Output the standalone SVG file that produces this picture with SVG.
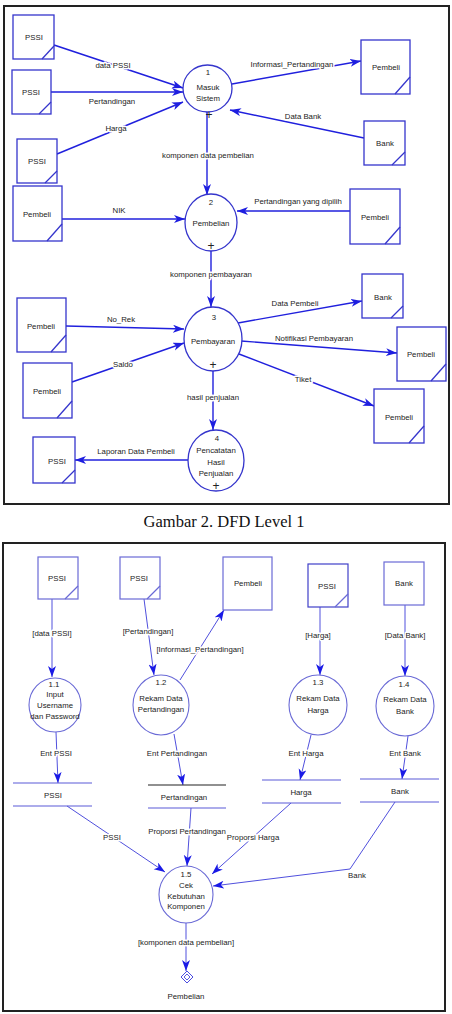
<svg xmlns="http://www.w3.org/2000/svg" width="452" height="1014" viewBox="0 0 452 1014">
<style>
text{font-family:"Liberation Sans",Arial,sans-serif;font-size:7.8px;fill:#222;text-anchor:middle}
.lbl{stroke:#fff;stroke-width:3px;paint-order:stroke;stroke-linejoin:round}
.cap{font-family:"Liberation Serif","Times New Roman",serif;font-size:16.5px;fill:#111}
.plus{font-size:12px}
.ent{fill:#fff;stroke:#3535cc;stroke-width:1.3}
.proc{fill:#fff;stroke:#3535cc;stroke-width:1.3}
.fl{fill:none;stroke:#2020dd;stroke-width:1.4}
.ent2{fill:#fff;stroke:#6a6ad6;stroke-width:1.2}
.proc2{fill:#fff;stroke:#6a6ad6;stroke-width:1.1}
.st2{stroke:#5a5ad8;stroke-width:1.2}
.fl2{fill:none;stroke:#5050dd;stroke-width:1}
.frame{fill:none;stroke:#222;stroke-width:2}
</style>
<defs>
<marker id="a1" markerUnits="userSpaceOnUse" markerWidth="12" markerHeight="9" refX="11" refY="4" orient="auto"><path d="M0,0 L11,4 L0,8 L3,4 Z" fill="#1e1ee0"/></marker>
<marker id="a2" markerUnits="userSpaceOnUse" markerWidth="12" markerHeight="9" refX="11" refY="4" orient="auto"><path d="M0,0 L11,4 L0,8 L3,4 Z" fill="#1a1ae6"/></marker>
</defs>
<rect width="452" height="1014" fill="#fff"/>
<rect class="frame" x="4" y="6" width="445" height="498"/>
<text class="cap" x="224" y="527">Gambar 2. DFD Level 1</text>
<rect class="frame" x="3" y="543" width="442" height="468"/>

<g id="connectors-top">
<line class="fl" x1="54" y1="45" x2="183" y2="88" marker-end="url(#a1)"/>
<line class="fl" x1="51" y1="92" x2="183" y2="92" marker-end="url(#a1)"/>
<line class="fl" x1="57" y1="154" x2="183" y2="102" marker-end="url(#a1)"/>
<line class="fl" x1="232" y1="84" x2="361" y2="61" marker-end="url(#a1)"/>
<line class="fl" x1="364" y1="138" x2="230" y2="110" marker-end="url(#a1)"/>
<line class="fl" x1="207" y1="112" x2="207" y2="195" marker-end="url(#a1)"/>
<line class="fl" x1="62" y1="219" x2="185" y2="219" marker-end="url(#a1)"/>
<line class="fl" x1="350" y1="211" x2="237" y2="211" marker-end="url(#a1)"/>
<line class="fl" x1="211" y1="251" x2="211" y2="307" marker-end="url(#a1)"/>
<line class="fl" x1="66" y1="326" x2="184" y2="329" marker-end="url(#a1)"/>
<line class="fl" x1="72" y1="382" x2="184" y2="343" marker-end="url(#a1)"/>
<line class="fl" x1="238" y1="323" x2="362" y2="301" marker-end="url(#a1)"/>
<line class="fl" x1="241" y1="341" x2="397" y2="353" marker-end="url(#a1)"/>
<line class="fl" x1="239" y1="354" x2="374" y2="406" marker-end="url(#a1)"/>
<line class="fl" x1="213" y1="371" x2="213" y2="430" marker-end="url(#a1)"/>
<line class="fl" x1="189" y1="460" x2="75" y2="460" marker-end="url(#a1)"/>
<text class="lbl" x="113" y="68">data PSSI</text>
<text class="lbl" x="112" y="104">Pertandingan</text>
<text class="lbl" x="116" y="131">Harga</text>
<text class="lbl" x="292" y="67">Informasi_Pertandingan</text>
<text class="lbl" x="303" y="119">Data Bank</text>
<text class="lbl" x="208" y="158">komponen data pembelian</text>
<text class="lbl" x="119" y="213">NIK</text>
<text class="lbl" x="298" y="204">Pertandingan yang dipilih</text>
<text class="lbl" x="211" y="277">komponen pembayaran</text>
<text class="lbl" x="121" y="322">No_Rek</text>
<text class="lbl" x="123" y="367">Saldo</text>
<text class="lbl" x="295" y="306">Data Pembeli</text>
<text class="lbl" x="314" y="341">Notifikasi Pembayaran</text>
<text class="lbl" x="303" y="382">Tiket</text>
<text class="lbl" x="213" y="400">hasil penjualan</text>
<text class="lbl" x="136" y="454">Laporan Data Pembeli</text>
</g>

<g id="t-pssi1"><rect class="ent" x="13" y="15" width="41" height="44"/><line class="ent" x1="42" y1="59" x2="54" y2="46"/><text x="34" y="40">PSSI</text></g>
<g id="t-pssi2"><rect class="ent" x="12" y="70" width="39" height="44"/><line class="ent" x1="39" y1="114" x2="51" y2="102"/><text x="31" y="95">PSSI</text></g>
<g id="t-pssi3"><rect class="ent" x="17" y="139" width="40" height="44"/><line class="ent" x1="45" y1="183" x2="57" y2="171"/><text x="37" y="164">PSSI</text></g>
<g id="t-proc1"><ellipse class="proc" cx="207.5" cy="88.5" rx="24.5" ry="23.5"/><text x="208" y="75">1</text><text x="208" y="90">Masuk</text><text x="208" y="101">Sistem</text><text class="plus" x="209" y="119">+</text></g>
<g id="t-pembeli1"><rect class="ent" x="361" y="40" width="49" height="54"/><line class="ent" x1="395" y1="94" x2="410" y2="77"/><text x="386" y="70">Pembeli</text></g>
<g id="t-bank1"><rect class="ent" x="364" y="121" width="41" height="44"/><line class="ent" x1="392" y1="165" x2="405" y2="152"/><text x="385" y="146">Bank</text></g>
<g id="t-pembeli2"><rect class="ent" x="13" y="186" width="49" height="55"/><line class="ent" x1="47" y1="241" x2="62" y2="224"/><text x="37" y="217">Pembeli</text></g>
<g id="t-proc2"><ellipse class="proc" cx="211" cy="222.5" rx="26" ry="28.5"/><text x="211" y="205">2</text><text x="211" y="226">Pembelian</text><text class="plus" x="211" y="250">+</text></g>
<g id="t-pembeli3"><rect class="ent" x="350" y="189" width="50" height="55"/><line class="ent" x1="385" y1="244" x2="400" y2="227"/><text x="375" y="220">Pembeli</text></g>
<g id="t-pembeli4"><rect class="ent" x="17" y="298" width="49" height="54"/><line class="ent" x1="51" y1="352" x2="66" y2="335"/><text x="41" y="329">Pembeli</text></g>
<g id="t-proc3"><ellipse class="proc" cx="213" cy="339" rx="29" ry="32"/><text x="214" y="320">3</text><text x="213" y="344">Pembayaran</text><text class="plus" x="213" y="369">+</text></g>
<g id="t-pembeli5"><rect class="ent" x="23" y="363" width="49" height="55"/><line class="ent" x1="57" y1="418" x2="72" y2="401"/><text x="47" y="394">Pembeli</text></g>
<g id="t-bank2"><rect class="ent" x="362" y="274" width="41" height="44"/><line class="ent" x1="391" y1="318" x2="403" y2="306"/><text x="383" y="300">Bank</text></g>
<g id="t-pembeli6"><rect class="ent" x="397" y="327" width="49" height="54"/><line class="ent" x1="431" y1="381" x2="446" y2="364"/><text x="421" y="357">Pembeli</text></g>
<g id="t-pembeli7"><rect class="ent" x="374" y="389" width="50" height="54"/><line class="ent" x1="409" y1="443" x2="424" y2="426"/><text x="399" y="420">Pembeli</text></g>
<g id="t-proc4"><ellipse class="proc" cx="216" cy="460.5" rx="28" ry="30.5"/><text x="217" y="441">4</text><text x="216" y="453">Pencatatan</text><text x="216" y="465">Hasil</text><text x="216" y="476">Penjualan</text><text class="plus" x="216" y="490">+</text></g>
<g id="t-pssi4"><rect class="ent" x="33" y="437" width="42" height="46"/><line class="ent" x1="62" y1="483" x2="75" y2="470"/><text x="57" y="464">PSSI</text></g>

<g id="connectors-bottom">
<line class="fl2" x1="52" y1="599" x2="52" y2="677" marker-end="url(#a2)"/>
<line class="fl2" x1="144" y1="599" x2="154" y2="675" marker-end="url(#a2)"/>
<line class="fl2" x1="180" y1="680" x2="224" y2="610" marker-end="url(#a2)"/>
<line class="fl2" x1="320" y1="607" x2="320" y2="675" marker-end="url(#a2)"/>
<line class="fl2" x1="405" y1="605" x2="405" y2="676" marker-end="url(#a2)"/>
<line class="fl2" x1="56" y1="732" x2="58" y2="783" marker-end="url(#a2)"/>
<line class="fl2" x1="174" y1="734" x2="183" y2="785" marker-end="url(#a2)"/>
<line class="fl2" x1="311" y1="735" x2="300" y2="780" marker-end="url(#a2)"/>
<line class="fl2" x1="408" y1="736" x2="402" y2="779" marker-end="url(#a2)"/>
<line class="fl2" x1="67" y1="806" x2="165" y2="872" marker-end="url(#a2)"/>
<line class="fl2" x1="191" y1="808" x2="187" y2="866" marker-end="url(#a2)"/>
<line class="fl2" x1="291" y1="803" x2="212" y2="874" marker-end="url(#a2)"/>
<polyline class="fl2" points="395,802 350,869 213,886" marker-end="url(#a2)"/>
<line class="fl2" x1="186" y1="923" x2="186" y2="971" marker-end="url(#a2)"/>
<text class="lbl" x="52" y="636">[data PSSI]</text>
<text class="lbl" x="148" y="634">[Pertandingan]</text>
<text class="lbl" x="200" y="652">[Informasi_Pertandingan]</text>
<text class="lbl" x="318" y="638">[Harga]</text>
<text class="lbl" x="405" y="638">[Data Bank]</text>
<text class="lbl" x="56" y="756">Ent PSSI</text>
<text class="lbl" x="177" y="756">Ent Pertandingan</text>
<text class="lbl" x="306" y="756">Ent Harga</text>
<text class="lbl" x="405" y="756">Ent Bank</text>
<text class="lbl" x="112" y="840">PSSI</text>
<text class="lbl" x="187" y="834">Proporsi Pertandingan</text>
<text class="lbl" x="253" y="840">Proporsi Harga</text>
<text class="lbl" x="357" y="878">Bank</text>
<text class="lbl" x="186" y="945">[komponen data pembelian]</text>
</g>

<g id="b-pssi1"><rect class="ent2" x="38" y="557" width="40" height="42"/><line class="ent2" x1="65" y1="599" x2="78" y2="586"/><text x="57" y="581">PSSI</text></g>
<g id="b-pssi2"><rect class="ent2" x="120" y="557" width="40" height="42"/><line class="ent2" x1="147" y1="599" x2="160" y2="586"/><text x="139" y="581">PSSI</text></g>
<g id="b-pembeli"><rect class="ent2" x="223" y="557" width="49" height="53"/><text x="248" y="586">Pembeli</text></g>
<g id="b-pssi3"><rect class="ent2" x="308" y="564" width="40" height="43" style="stroke:#4040c8"/><line class="ent2" x1="335" y1="607" x2="348" y2="594"/><text x="327" y="589">PSSI</text></g>
<g id="b-bank"><rect class="ent2" x="384" y="562" width="40" height="43"/><text x="404" y="586">Bank</text></g>
<g id="b-proc11"><ellipse class="proc2" cx="55" cy="705" rx="26" ry="27"/><text x="54" y="687">1.1</text><text x="55" y="697">Input</text><text x="55" y="708">Username</text><text x="55" y="719">dan Password</text></g>
<g id="b-proc12"><ellipse class="proc2" cx="161" cy="705" rx="28" ry="30"/><text x="161" y="685">1.2</text><text x="161" y="701">Rekam Data</text><text x="161" y="712">Pertandingan</text></g>
<g id="b-proc13"><ellipse class="proc2" cx="318" cy="705" rx="29" ry="30"/><text x="318" y="685">1.3</text><text x="318" y="701">Rekam Data</text><text x="318" y="713">Harga</text></g>
<g id="b-proc14"><ellipse class="proc2" cx="405" cy="706" rx="29" ry="30"/><text x="404" y="687">1.4</text><text x="405" y="702">Rekam Data</text><text x="405" y="714">Bank</text></g>
<g id="b-store-pssi"><line class="st2" x1="13" y1="783" x2="92" y2="783"/><line class="st2" x1="13" y1="806" x2="92" y2="806"/><text x="53" y="798">PSSI</text></g>
<g id="b-store-pertandingan"><line class="st2" x1="148" y1="785" x2="226" y2="785" style="stroke:#222"/><line class="st2" x1="148" y1="808" x2="226" y2="808"/><text x="184" y="800">Pertandingan</text></g>
<g id="b-store-harga"><line class="st2" x1="262" y1="780" x2="341" y2="780"/><line class="st2" x1="262" y1="803" x2="341" y2="803"/><text x="301" y="795">Harga</text></g>
<g id="b-store-bank"><line class="st2" x1="360" y1="779" x2="439" y2="779"/><line class="st2" x1="360" y1="802" x2="439" y2="802"/><text x="400" y="794">Bank</text></g>
<g id="b-proc15"><ellipse class="proc2" cx="186" cy="894.5" rx="27" ry="28.5"/><text x="186" y="877">1.5</text><text x="186" y="888">Cek</text><text x="186" y="899">Kebutuhan</text><text x="186" y="909">Komponen</text></g>
<g id="b-pembelian"><path d="M187,971 L193,977 L187,983 L181,977 Z" fill="#fff" stroke="#4a4ae0" stroke-width="1"/><path d="M187,974 L190,977 L187,980 L184,977 Z" fill="none" stroke="#4a4ae0" stroke-width="0.9"/><text x="186" y="999">Pembelian</text></g>
</svg>
